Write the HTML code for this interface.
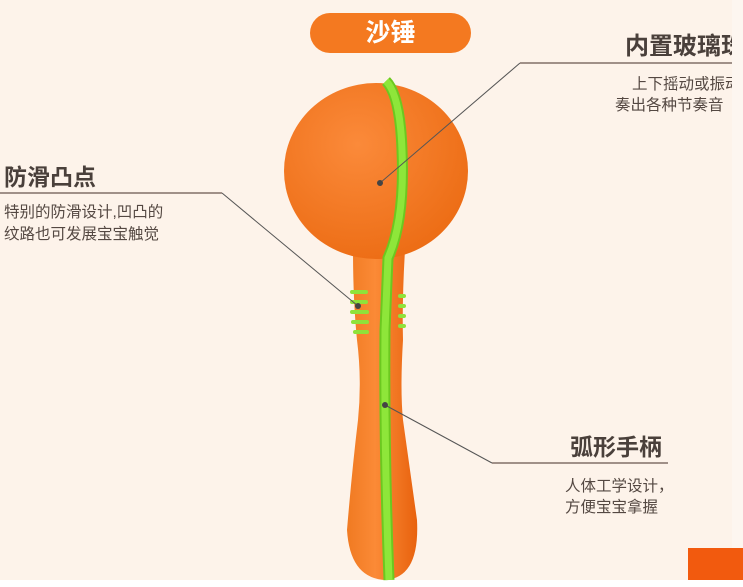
<!DOCTYPE html>
<html><head><meta charset="utf-8"><style>
body{margin:0;width:743px;height:587px;overflow:hidden;background:#fdf3ea;font-family:"Liberation Sans","Noto Sans CJK SC",sans-serif;position:relative}
.t{position:absolute;font-weight:bold;font-size:23px;line-height:30px;color:#4a403b;white-space:nowrap}
.s{position:absolute;font-size:15.5px;color:#544842;line-height:22px;white-space:nowrap}
</style></head><body>
<svg width="743" height="587" style="position:absolute;left:0;top:0">
<defs><radialGradient id="g" cx="40%" cy="35%" r="70%"><stop offset="0" stop-color="#fb8a3a"/><stop offset="1" stop-color="#ec6c14"/></radialGradient>
<linearGradient id="h" x1="0" x2="1"><stop offset="0" stop-color="#f07a22"/><stop offset="0.4" stop-color="#fb8a36"/><stop offset="1" stop-color="#e8620e"/></linearGradient></defs>
<rect x="0" y="580" width="743" height="7" fill="#fff"/>
<rect x="688" y="548" width="55" height="32" fill="#f25a0e"/>
<rect x="310" y="13" width="161" height="40" rx="20" fill="#f47920"/>
<path d="M353 250 L405 250 Q402 300 403 340 Q400 390 403 420 Q410 470 417 520 Q420 578 385 580 Q350 578 347 530 Q352 470 358 420 Q362 380 357 340 Q353 300 353 250 Z" fill="url(#h)"/>
<ellipse cx="376" cy="171" rx="92" ry="88" fill="url(#g)"/>
<path d="M386 81 Q400 95 402 150 Q405 220 388 258 L385 330 Q384 450 389 580" stroke="#6cc820" stroke-width="11" fill="none"/>
<path d="M386 81 Q400 95 402 150 Q405 220 388 258 L385 330 Q384 450 389 580" stroke="#8ee63a" stroke-width="7" fill="none"/>
<g stroke="#8fe23a" stroke-width="4" stroke-linecap="round">
<line x1="352" y1="292" x2="366" y2="292"/><line x1="352" y1="302" x2="366" y2="302"/><line x1="352" y1="312" x2="367" y2="312"/><line x1="353" y1="322" x2="367" y2="322"/><line x1="355" y1="332" x2="367" y2="332"/>
<line x1="400" y1="296" x2="404" y2="296"/><line x1="400" y1="306" x2="404" y2="306"/><line x1="400" y1="316" x2="404" y2="316"/><line x1="400" y1="326" x2="404" y2="326"/>
</g>
<g stroke="#555" stroke-width="1" fill="none">
<line x1="380" y1="183" x2="520" y2="63"/>
<line x1="222" y1="193" x2="358" y2="306"/>
<line x1="385" y1="405" x2="492" y2="463"/>
</g>
<g stroke="#a09088" stroke-width="2">
<line x1="520" y1="63" x2="743" y2="63"/>
<line x1="0" y1="193" x2="222" y2="193"/>
<line x1="492" y1="463" x2="668" y2="463"/>
</g>
<g fill="#444"><circle cx="380" cy="183" r="3"/><circle cx="358" cy="306" r="3"/><circle cx="385" cy="405" r="3"/></g>
</svg>
<div style="position:absolute;left:310px;top:13px;width:161px;height:40px;line-height:40px;text-align:center;color:#fff;font-size:25px;font-weight:bold">沙锤</div>
<div class="t" style="left:625px;top:32px;font-size:24px">内置玻璃珠</div>
<div class="s" style="left:632px;top:74px">上下摇动或振动</div>
<div class="s" style="left:615px;top:95px">奏出各种节奏音</div>
<div class="t" style="left:4px;top:162px">防滑凸点</div>
<div class="s" style="left:4px;top:202px">特别的防滑设计,凹凸的</div>
<div class="s" style="left:4px;top:224px">纹路也可发展宝宝触觉</div>
<div class="t" style="left:570px;top:432px">弧形手柄</div>
<div class="s" style="left:565px;top:476px">人体工学设计，</div>
<div class="s" style="left:565px;top:497px">方便宝宝拿握</div>
<div style="position:absolute;left:732px;top:0;width:11px;height:548px;background:#fdf6f0"></div>
</body></html>
